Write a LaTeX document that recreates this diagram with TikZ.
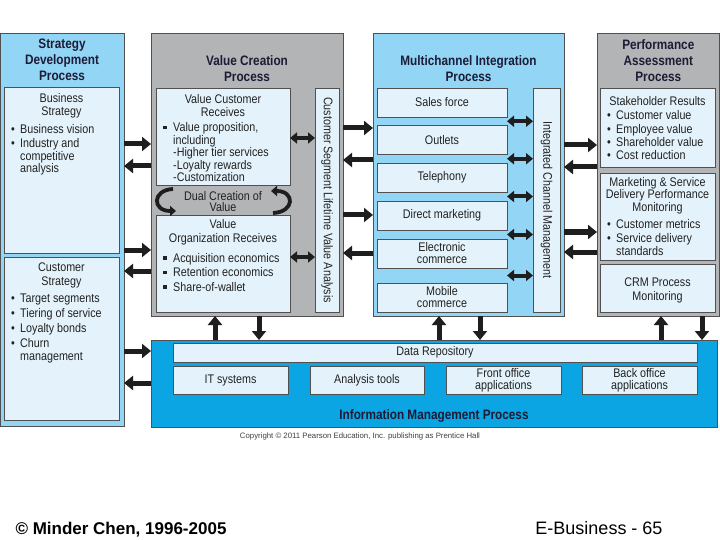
\documentclass[tikz,border=0pt]{standalone}
\usepackage{fontspec}
\setmainfont{Liberation Sans}[FakeStretch=0.86]
\newfontfamily\footfont{Liberation Sans}
\usetikzlibrary{positioning,arrows.meta,calc}

\definecolor{procsky}{HTML}{93D5F5}
\definecolor{procgrey}{HTML}{B3B4B6}
\definecolor{paleblue}{HTML}{E4F3FB}
\definecolor{infoblue}{HTML}{0AA5E2}
\definecolor{edgegrey}{HTML}{505050}
\definecolor{headnavy}{HTML}{1C1C36}
\definecolor{txtdark}{HTML}{222222}
\definecolor{arrowblack}{HTML}{1E1E1E}

\newcommand\bulletdot{\makebox[9pt][l]{•}}
\newcommand\bulletsq{\makebox[10pt][l]{\rule[2.5pt]{3.4pt}{3.4pt}}}
\newcommand\subind{\hspace*{9pt}}
\newcommand\subsq{\hspace*{10pt}}

\begin{document}
\begin{tikzpicture}[
    x=1pt, y=-1pt,
    box/.style={
        rectangle,
        draw=edgegrey,
        line width=0.8pt,
        inner sep=0pt,
        outer sep=0pt,
        anchor=north west,
        align=center,
        text=txtdark,
        font=\fontsize{12.5}{13.5}\selectfont
    },
    procblue/.style={box, fill=procsky},
    procgray/.style={box, fill=procgrey},
    inbox/.style={box, fill=paleblue},
    infobox/.style={box, fill=infoblue},
    headtext/.style={
        font=\bfseries\fontsize{13.7}{16}\selectfont,
        align=center,
        text=headnavy,
        inner sep=2pt
    },
    boxtitle/.style={
        font=\fontsize{12.5}{13.5}\selectfont,
        align=center,
        text=txtdark,
        inner sep=2pt
    },
    bodytext/.style={
        font=\fontsize{12.5}{12.5}\selectfont,
        align=left,
        text=txtdark,
        inner sep=2pt,
        anchor=north west
    },
    vtext/.style={font=\fontsize{12.5}{13}\selectfont, rotate=-90, text=txtdark},
    blockarrow/.style={line width=5pt, draw=arrowblack, -{Triangle[length=9pt,width=14pt]}},
    twoway/.style={line width=4pt, draw=arrowblack,
        {Triangle[length=7pt,width=11pt]}-{Triangle[length=7pt,width=11pt]}},
    cyclearrow/.style={line width=3.8pt, draw=arrowblack, -{Triangle[length=6pt,width=10pt]}}
]

\useasboundingbox (0,0) rectangle (720,540);
\fill[white] (0,0) rectangle (720,540);

% strategy development
\node (sdp) [procblue, minimum width=124, minimum height=393] at (0,33) {};
\node (sdp-h) [headtext, below=3.5pt of sdp.north] {Strategy\\Development\\Process};

\node (bstrat) [inbox, minimum width=115, minimum height=166] at (4,87) {};
\node (bstrat-t) [boxtitle, below=4pt of bstrat.north] {Business\\Strategy};
\node (bstrat-l) [bodytext] at ($(bstrat.west |- bstrat-t.south)+(5,1.8)$)
    {\bulletdot Business vision\\[1.5pt]
     \bulletdot Industry and\\\subind competitive\\\subind analysis};

\node (cstrat) [inbox, minimum width=115, minimum height=163] at (4,257) {};
\node (cstrat-t) [boxtitle, font=\fontsize{12.5}{14}\selectfont, below=4pt of cstrat.north] {Customer\\Strategy};
\node (cstrat-l) [bodytext] at ($(cstrat.west |- cstrat-t.south)+(5,1.3)$)
    {\bulletdot Target segments\\[2.5pt]
     \bulletdot Tiering of service\\[2.5pt]
     \bulletdot Loyalty bonds\\[2.5pt]
     \bulletdot Churn\\\subind management};

% value creation
\node (vcp) [procgray, minimum width=192, minimum height=283] at (151,33) {};
\node (vcp-h) [headtext, below=20.5pt of vcp.north] {Value Creation\\Process};

\node (vcr) [inbox, minimum width=134, minimum height=97] at (156,88) {};
\node (vcr-t) [boxtitle, below=4pt of vcr.north] {Value Customer\\Receives};
\node (vcr-l) [bodytext] at ($(vcr.west |- vcr-t.south)+(5,1.4)$)
    {\bulletsq Value proposition,\\\subsq including\\\subsq -Higher tier services\\\subsq -Loyalty rewards\\\subsq -Customization};

\node (dual) [boxtitle, font=\fontsize{12.5}{11.5}\selectfont] at (223,201.5) {Dual Creation of\\Value};

\node (vor) [inbox, minimum width=134, minimum height=97] at (156,215) {};
\node (vor-t) [boxtitle, below=2.5pt of vor.north] {Value\\Organization Receives};
\node (vor-l) [bodytext] at ($(vor.west |- vor-t.south)+(5,3.8)$)
    {\bulletsq Acquisition economics\\[2pt]
     \bulletsq Retention economics\\[2pt]
     \bulletsq Share-of-wallet};

\node (clv) [inbox, minimum width=24, minimum height=224] at (315,88) {};
\node (clv-t) [vtext] at (clv.center) {Customer Segment Lifetime Value Analysis};

\coordinate (dl-a) at (173,189);
\coordinate (dl-b) at (176,211);
\coordinate (dr-a) at (273,213);
\coordinate (dr-b) at (271,191);
\draw [cyclearrow] (dl-a) .. controls (152,190) and (152,211) .. (dl-b);
\draw [cyclearrow] (dr-a) .. controls (295,212) and (295,191) .. (dr-b);

\draw [twoway] (vcr.east |- 0,138) -- (clv.west |- 0,138);
\draw [twoway] (vor.east |- 0,257) -- (clv.west |- 0,257);

% multichannel integration
\node (mcp) [procblue, minimum width=191, minimum height=283] at (373,33) {};
\node (mcp-h) [headtext, below=20.5pt of mcp.north] {Multichannel Integration\\Process};

\node (sales)   [inbox, minimum width=130, minimum height=29] at (377,88)    {Sales force};
\node (outlets) [inbox, minimum width=130, minimum height=29] at (377,125.5) {Outlets};
\node (tel)     [inbox, minimum width=130, minimum height=29] at (377,163)   {Telephony};
\node (direct)  [inbox, minimum width=130, minimum height=29] at (377,201)   {Direct marketing};
\node (ecom)    [inbox, minimum width=130, minimum height=29, font=\fontsize{12.5}{12}\selectfont] at (377,239) {Electronic\\commerce};
\node (mobile)  [inbox, minimum width=130, minimum height=29, font=\fontsize{12.5}{12}\selectfont] at (377,283) {Mobile\\commerce};

\node (icm) [inbox, minimum width=27, minimum height=224] at (533,88) {};
\node (icm-t) [vtext] at (icm.center) {Integrated Channel Management};

\foreach \a/\b in {sales/outlets, outlets/tel, tel/direct, direct/ecom, ecom/mobile} {
    \coordinate (gap) at ($(\a.south east)!.5!(\b.north east)$);
    \draw [twoway] (gap) -- (gap -| icm.west);
}

% performance assessment
\node (pap) [procgray, minimum width=122.6, minimum height=283] at (597,33) {};
\node (pap-h) [headtext, below=4.5pt of pap.north] {Performance\\Assessment\\Process};

\node (stake) [inbox, minimum width=115, minimum height=79] at (600,88) {};
\node (stake-t) [boxtitle, below=6pt of stake.north] {Stakeholder Results};
\node (stake-l) [bodytext, font=\fontsize{12.5}{13.3}\selectfont] at ($(stake.west |- stake-t.south)+(5,0.9)$)
    {\bulletdot Customer value\\
     \bulletdot Employee value\\
     \bulletdot Shareholder value\\
     \bulletdot Cost reduction};

\node (mktg) [inbox, minimum width=115, minimum height=87] at (600,173) {};
\node (mktg-t) [boxtitle, font=\fontsize{12.5}{11.5}\selectfont, below=2pt of mktg.north]
    {Marketing \& Service\\Delivery Performance\\Monitoring};
\node (mktg-l) [bodytext] at ($(mktg.west |- mktg-t.south)+(5,0.5)$)
    {\bulletdot Customer metrics\\[2pt]
     \bulletdot Service delivery\\\subind standards};

\node (crm) [inbox, minimum width=115, minimum height=48] at (600,264) {};
\node (crm-t) [boxtitle, font=\fontsize{12.5}{14}\selectfont] at ($(crm.center)+(0,2.5)$) {CRM Process\\Monitoring};

% information management
\node (imp) [infobox, minimum width=566, minimum height=87] at (151,340) {};
\node (repo)  [inbox, minimum width=524, minimum height=19] at (173,343) {Data Repository};
\node (itsys) [inbox, minimum width=115, minimum height=28] at (173,366) {IT systems};
\node (anal)  [inbox, minimum width=114, minimum height=28] at (310,366) {Analysis tools};
\node (front) [inbox, minimum width=115, minimum height=28, font=\fontsize{12.5}{12}\selectfont] at (446,366) {Front office\\applications};
\node (back)  [inbox, minimum width=115, minimum height=28, font=\fontsize{12.5}{12}\selectfont] at (582,366) {Back office\\applications};
\node (imp-h) [headtext, above=2pt of imp.south] {Information Management Process};

\node (copy) [font=\footfont\fontsize{7.8}{8}\selectfont, text=black!75] at (360,436)
    {Copyright © 2011 Pearson Education, Inc. publishing as Prentice Hall};

% arrows between processes
\draw [blockarrow] (sdp.east |- 0,144) -- (vcp.west |- 0,144);
\draw [blockarrow] (vcp.west |- 0,166) -- (sdp.east |- 0,166);
\draw [blockarrow] (sdp.east |- 0,250) -- (vcp.west |- 0,250);
\draw [blockarrow] (vcp.west |- 0,271) -- (sdp.east |- 0,271);
\draw [blockarrow] (sdp.east |- 0,351) -- (imp.west |- 0,351);
\draw [blockarrow] (imp.west |- 0,383) -- (sdp.east |- 0,383);

\draw [blockarrow] (vcp.east |- 0,128) -- (mcp.west |- 0,128);
\draw [blockarrow] (mcp.west |- 0,160) -- (vcp.east |- 0,160);
\draw [blockarrow] (vcp.east |- 0,215) -- (mcp.west |- 0,215);
\draw [blockarrow] (mcp.west |- 0,253) -- (vcp.east |- 0,253);

\draw [blockarrow] (mcp.east |- 0,145) -- (pap.west |- 0,145);
\draw [blockarrow] (pap.west |- 0,167) -- (mcp.east |- 0,167);
\draw [blockarrow] (mcp.east |- 0,232) -- (pap.west |- 0,232);
\draw [blockarrow] (pap.west |- 0,252) -- (mcp.east |- 0,252);

\draw [blockarrow] (imp.north -| 215,0) -- (vcp.south -| 215,0);
\draw [blockarrow] (vcp.south -| 259,0) -- (imp.north -| 259,0);
\draw [blockarrow] (imp.north -| 439,0) -- (mcp.south -| 439,0);
\draw [blockarrow] (mcp.south -| 480,0) -- (imp.north -| 480,0);
\draw [blockarrow] (imp.north -| 661,0) -- (pap.south -| 661,0);
\draw [blockarrow] (pap.south -| 702,0) -- (imp.north -| 702,0);

% footer
\node (author) [font=\footfont\bfseries\fontsize{17}{18}\selectfont, anchor=west] at (12,530)
    {© Minder Chen, 1996-2005};
\node (slide) [font=\footfont\fontsize{18}{20}\selectfont] at (599,528) {E-Business - 65};

\end{tikzpicture}
\end{document}
